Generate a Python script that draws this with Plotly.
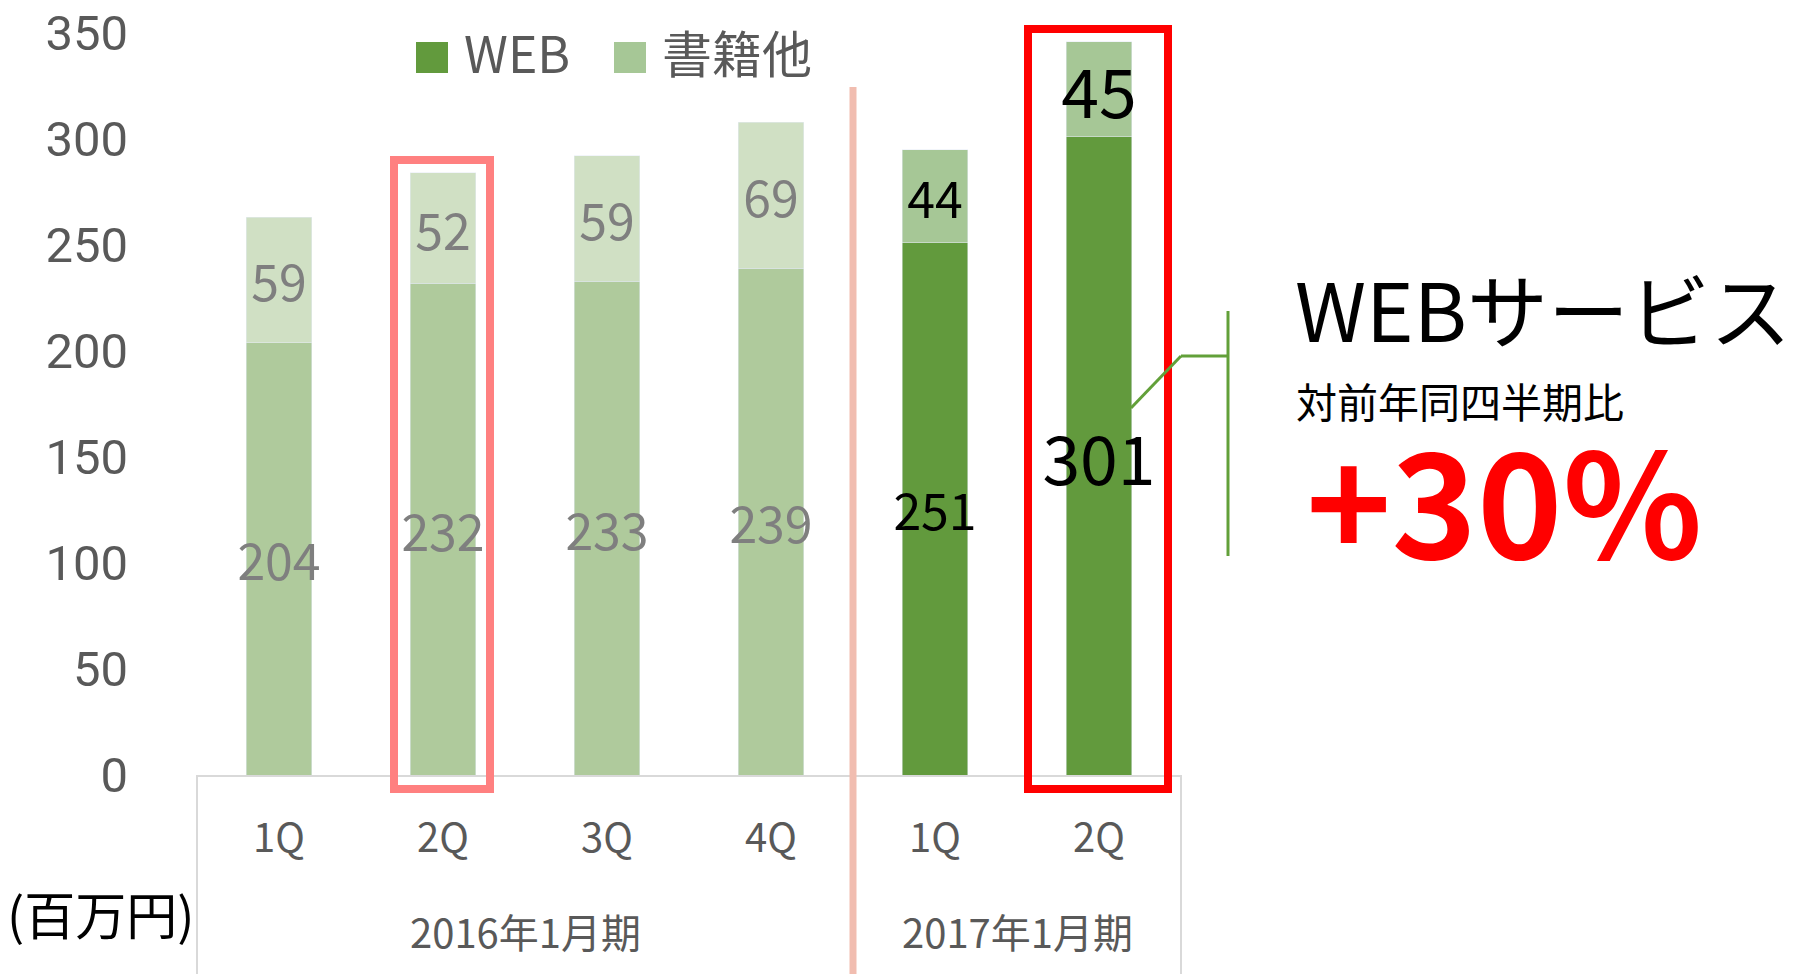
import plotly.graph_objects as go

# ---- data ----
quarters = ["1Q", "2Q", "3Q", "4Q", "1Q", "2Q"]
periods = ["2016年1月期", "2016年1月期", "2016年1月期", "2016年1月期", "2017年1月期", "2017年1月期"]
web = [204, 232, 233, 239, 251, 301]
books = [59, 52, 59, 69, 44, 45]
y_ticks = [0, 50, 100, 150, 200, 250, 300, 350]
series_names = ["WEB", "書籍他"]
unit_label = "(百万円)"
callout_title = "WEBサービス"
callout_sub = "対前年同四半期比"
callout_value = "+30%"

keys = [f"{p} {q}" for p, q in zip(periods, quarters)]

# ---- styles ----
FONT = "Noto Sans CJK JP"
GRAY = "#595959"
web_colors = ["#AFCA9C"] * 4 + ["#629A3D"] * 2
book_colors = ["#D0E0C4"] * 4 + ["#A6C796"] * 2
label_colors = ["#7F7F7F"] * 4 + ["#000000"] * 2
label_sizes = [50, 50, 50, 50, 50, 68]

W, H = 1810, 974
L, R, T, B = 197, 629, 33, 199
PW, PH = W - L - R, H - T - B
Y_MAX = 350.01
PX_PER_UNIT = PH / Y_MAX


def PX(px):
    return (px - L) / PW


def PY(py):
    return (H - B - py) / PH


# vertical correction so the glyphs sit visually centred in each segment
text_shift = [0.18 * s / PX_PER_UNIT for s in label_sizes]

fig = go.Figure()
fig.add_trace(go.Bar(x=keys, y=web, name=series_names[0], marker_color=web_colors,
                     width=0.4, showlegend=False, hoverinfo="skip"))
fig.add_trace(go.Bar(x=keys, y=books, name=series_names[1], marker_color=book_colors,
                     width=0.4, showlegend=False, hoverinfo="skip"))

# value labels
fig.add_trace(go.Scatter(x=keys, y=[w / 2 - d for w, d in zip(web, text_shift)], mode="text",
                         text=[str(v) for v in web],
                         textfont=dict(family=FONT, color=label_colors, size=label_sizes),
                         showlegend=False, hoverinfo="skip", cliponaxis=False))
fig.add_trace(go.Scatter(x=keys, y=[w + b / 2 - d for w, b, d in zip(web, books, text_shift)],
                         mode="text",
                         text=[str(v) for v in books],
                         textfont=dict(family=FONT, color=label_colors, size=label_sizes),
                         showlegend=False, hoverinfo="skip", cliponaxis=False))

shapes = []
annotations = []

# frame under axis
for xp in (0, 1):
    shapes.append(dict(type="line", xref="paper", yref="paper", x0=xp, x1=xp,
                       y0=0, y1=PY(H), line=dict(color="#D9D9D9", width=2)))

# divider between periods (salmon)
div_px = L + PW * (4 / 6)
shapes.append(dict(type="line", xref="paper", yref="paper", x0=PX(div_px), x1=PX(div_px),
                   y0=PY(87), y1=PY(H), line=dict(color="#F1BDB0", width=7)))

# highlight boxes
shapes.append(dict(type="rect", xref="paper", yref="paper",
                   x0=PX(394), x1=PX(490), y0=PY(789), y1=PY(160),
                   line=dict(color="#FF8080", width=8), fillcolor="rgba(0,0,0,0)"))
shapes.append(dict(type="rect", xref="paper", yref="paper",
                   x0=PX(1028), x1=PX(1168), y0=PY(789), y1=PY(29),
                   line=dict(color="#FF0000", width=8), fillcolor="rgba(0,0,0,0)"))

# green bracket
GREEN = "#62A039"
shapes.append(dict(type="line", xref="paper", yref="paper", x0=PX(1131), y0=PY(408),
                   x1=PX(1181), y1=PY(356), line=dict(color=GREEN, width=3)))
shapes.append(dict(type="line", xref="paper", yref="paper", x0=PX(1181), y0=PY(356),
                   x1=PX(1228), y1=PY(356), line=dict(color=GREEN, width=3)))
shapes.append(dict(type="line", xref="paper", yref="paper", x0=PX(1228), y0=PY(311),
                   x1=PX(1228), y1=PY(556), line=dict(color=GREEN, width=3)))

# manual legend
for (sx, tx, col, name) in [(416, 465, "#629A3D", series_names[0]),
                            (614, 663, "#A6C796", series_names[1])]:
    shapes.append(dict(type="rect", xref="paper", yref="paper",
                       x0=PX(sx), x1=PX(sx + 32), y0=PY(73), y1=PY(42),
                       line=dict(width=0), fillcolor=col))
    annotations.append(dict(xref="paper", yref="paper", x=PX(tx - 3), y=PY(51),
                            xanchor="left", yanchor="middle", showarrow=False, text=name,
                            font=dict(family=FONT, size=50, color=GRAY)))

# period group labels
for p in dict.fromkeys(periods):
    idx = [i for i, v in enumerate(periods) if v == p]
    cx = L + PW * ((sum(idx) / len(idx)) + 0.5) / len(keys)
    annotations.append(dict(xref="paper", yref="paper", x=PX(cx), y=PY(931),
                            xanchor="center", yanchor="middle", showarrow=False, text=p,
                            font=dict(family=FONT, size=40, color=GRAY)))

annotations.append(dict(xref="paper", yref="paper", x=PX(5), y=PY(913),
                        xanchor="left", yanchor="middle", showarrow=False, text=unit_label,
                        font=dict(family=FONT, size=51, color="#000000")))

annotations.append(dict(xref="paper", yref="paper", x=PX(1293), y=PY(306),
                        xanchor="left", yanchor="middle", showarrow=False, text=callout_title,
                        height=94, valign="middle",
                        font=dict(family=FONT, size=81, color="#000000")))
annotations.append(dict(xref="paper", yref="paper", x=PX(1294), y=PY(400),
                        xanchor="left", yanchor="middle", showarrow=False, text=callout_sub,
                        height=50, valign="middle",
                        font=dict(family=FONT, size=41, color="#000000")))
annotations.append(dict(xref="paper", yref="paper", x=PX(1304), y=PY(496),
                        xanchor="left", yanchor="middle", showarrow=False,
                        text="<b>" + callout_value + "</b>",
                        height=135, valign="middle",
                        font=dict(family=FONT, size=145, color="#FF0000")))

fig.update_layout(
    width=W, height=H,
    margin=dict(l=L, r=R, t=T, b=B, pad=0, autoexpand=False),
    paper_bgcolor="white", plot_bgcolor="white",
    barmode="stack", bargap=0.6,
    showlegend=False,
    shapes=shapes, annotations=annotations,
    font=dict(family=FONT, color=GRAY),
)
fig.update_xaxes(type="category", categoryorder="array", categoryarray=keys,
                 tickvals=keys, ticktext=quarters, range=[-0.5, 5.5],
                 showline=True, linecolor="#D9D9D9", linewidth=2,
                 showgrid=False, zeroline=False, ticks="", automargin=False,
                 tickfont=dict(family=FONT, size=40, color=GRAY),
                 ticklabelstandoff=27)
fig.update_yaxes(range=[0, Y_MAX], tickvals=y_ticks, showgrid=False, zeroline=False,
                 showline=False, ticks="", ticklabeloverflow="allow", automargin=False,
                 tickfont=dict(family="Roboto", size=49, color=GRAY),
                 ticklabelstandoff=68)

fig.write_html("out.html")
